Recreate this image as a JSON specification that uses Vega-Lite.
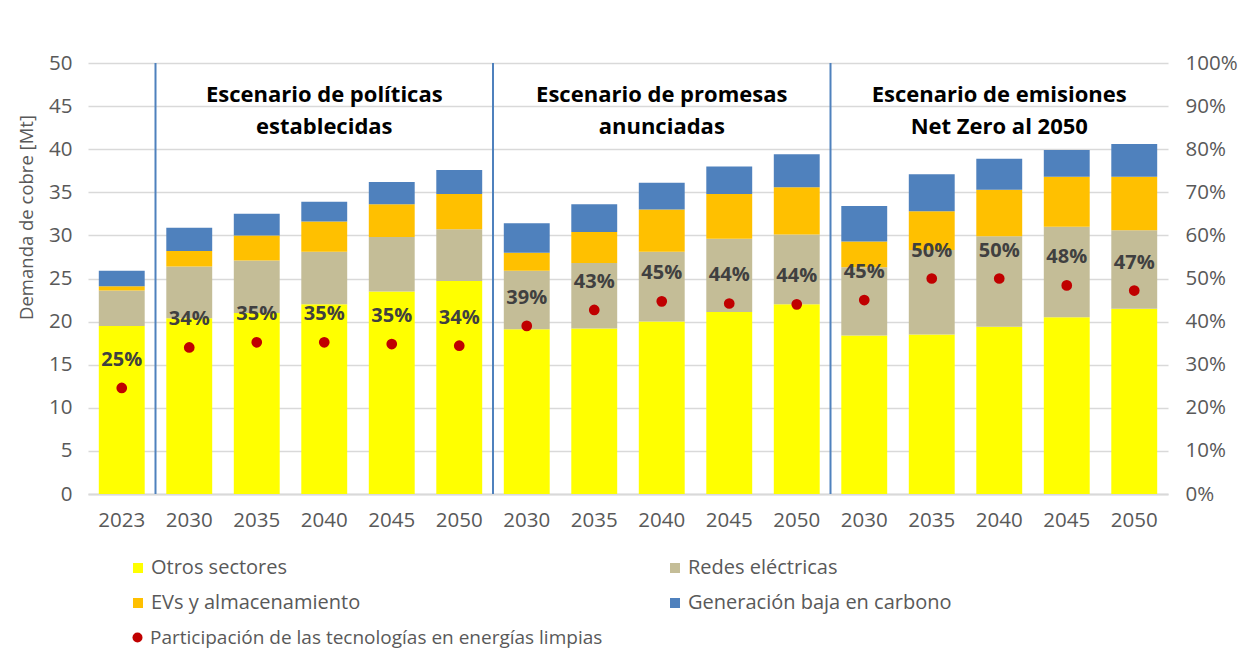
{
  "$schema": "https://vega.github.io/schema/vega-lite/v6.json",
  "width": 1080,
  "height": 431,
  "autosize": {"type": "none"},
  "padding": {"left": 88, "top": 63, "right": 76, "bottom": 154},
  "background": "white",
  "config": {
    "view": {"stroke": null},
    "font": "Open Sans",
    "axis": {"labelFont": "Open Sans", "titleFont": "Open Sans", "labelColor": "#595959", "titleColor": "#595959", "labelFontSize": 20.5, "titleFontSize": 18.5, "titleFontWeight": "normal"},
    "legend": {"labelFont": "Open Sans", "labelFontSize": 20, "labelColor": "#595959", "labelLimit": 0}
  },
  "datasets": {
    "demanda": [
      {"k": "2023", "Otros sectores": 19.5, "Redes eléctricas": 4.1, "EVs y almacenamiento": 0.5, "Generación baja en carbono": 1.8, "pct": 0.246},
      {"k": "2030 S", "Otros sectores": 20.4, "Redes eléctricas": 6.0, "EVs y almacenamiento": 1.8, "Generación baja en carbono": 2.7, "pct": 0.34},
      {"k": "2035 S", "Otros sectores": 21.0, "Redes eléctricas": 6.1, "EVs y almacenamiento": 2.9, "Generación baja en carbono": 2.5, "pct": 0.352},
      {"k": "2040 S", "Otros sectores": 22.0, "Redes eléctricas": 6.1, "EVs y almacenamiento": 3.5, "Generación baja en carbono": 2.3, "pct": 0.352},
      {"k": "2045 S", "Otros sectores": 23.5, "Redes eléctricas": 6.3, "EVs y almacenamiento": 3.8, "Generación baja en carbono": 2.6, "pct": 0.348},
      {"k": "2050 S", "Otros sectores": 24.7, "Redes eléctricas": 6.0, "EVs y almacenamiento": 4.1, "Generación baja en carbono": 2.8, "pct": 0.344},
      {"k": "2030 A", "Otros sectores": 19.1, "Redes eléctricas": 6.8, "EVs y almacenamiento": 2.1, "Generación baja en carbono": 3.4, "pct": 0.39},
      {"k": "2035 A", "Otros sectores": 19.2, "Redes eléctricas": 7.6, "EVs y almacenamiento": 3.6, "Generación baja en carbono": 3.2, "pct": 0.427},
      {"k": "2040 A", "Otros sectores": 20.0, "Redes eléctricas": 8.1, "EVs y almacenamiento": 4.9, "Generación baja en carbono": 3.1, "pct": 0.447},
      {"k": "2045 A", "Otros sectores": 21.1, "Redes eléctricas": 8.5, "EVs y almacenamiento": 5.2, "Generación baja en carbono": 3.2, "pct": 0.442},
      {"k": "2050 A", "Otros sectores": 22.0, "Redes eléctricas": 8.1, "EVs y almacenamiento": 5.5, "Generación baja en carbono": 3.8, "pct": 0.44},
      {"k": "2030 N", "Otros sectores": 18.4, "Redes eléctricas": 7.9, "EVs y almacenamiento": 3.0, "Generación baja en carbono": 4.1, "pct": 0.45},
      {"k": "2035 N", "Otros sectores": 18.5, "Redes eléctricas": 9.8, "EVs y almacenamiento": 4.5, "Generación baja en carbono": 4.3, "pct": 0.50},
      {"k": "2040 N", "Otros sectores": 19.4, "Redes eléctricas": 10.5, "EVs y almacenamiento": 5.4, "Generación baja en carbono": 3.6, "pct": 0.50},
      {"k": "2045 N", "Otros sectores": 20.5, "Redes eléctricas": 10.5, "EVs y almacenamiento": 5.8, "Generación baja en carbono": 3.1, "pct": 0.484},
      {"k": "2050 N", "Otros sectores": 21.5, "Redes eléctricas": 9.1, "EVs y almacenamiento": 6.2, "Generación baja en carbono": 3.8, "pct": 0.472}
    ],
    "escenarios": [
      {"inicio": "2030 S", "centro": "2040 S", "nombre": "Escenario de políticas\nestablecidas"},
      {"inicio": "2030 A", "centro": "2040 A", "nombre": "Escenario de promesas\nanunciadas"},
      {"inicio": "2030 N", "centro": "2040 N", "nombre": "Escenario de emisiones\nNet Zero al 2050"}
    ]
  },
  "layer": [
    {
      "data": {"name": "demanda"},
      "transform": [
        {"fold": ["Otros sectores", "Redes eléctricas", "EVs y almacenamiento", "Generación baja en carbono"], "as": ["serie", "valor"]},
        {"calculate": "indexof(['Otros sectores','Redes eléctricas','EVs y almacenamiento','Generación baja en carbono'], datum.serie)", "as": "orden"}
      ],
      "mark": {"type": "bar", "width": {"band": 0.68}},
      "encoding": {
        "x": {"field": "k", "type": "nominal", "scale": {"domain": ["2023","2030 S","2035 S","2040 S","2045 S","2050 S","2030 A","2035 A","2040 A","2045 A","2050 A","2030 N","2035 N","2040 N","2045 N","2050 N"], "paddingInner": 0, "paddingOuter": 0},
          "axis": {"title": null, "labelAngle": 0, "labelExpr": "slice(datum.label, 0, 4)", "ticks": false, "domainColor": "#d9d9d9", "domainWidth": 2, "labelPadding": 16}},
        "y": {"field": "valor", "type": "quantitative", "stack": "zero", "scale": {"domain": [0, 50]},
          "axis": {"title": "Demanda de cobre [Mt]", "values": [0,5,10,15,20,25,30,35,40,45,50], "ticks": false, "domain": false, "gridColor": "#d9d9d9", "gridWidth": 1.5, "labelPadding": 16, "titlePadding": 12, "titleY": 154, "titleAlign": "center"}},
        "color": {"field": "serie", "type": "nominal",
          "scale": {"domain": ["Otros sectores", "Redes eléctricas", "EVs y almacenamiento", "Generación baja en carbono"], "range": ["#FFFF00", "#C4BD97", "#FFC000", "#4F81BD"]},
          "legend": {"title": null, "orient": "none", "legendX": 40, "legendY": 495, "columns": 2, "direction": "horizontal", "columnPadding": 304, "rowPadding": 15, "symbolType": "square", "symbolSize": 100, "symbolStrokeWidth": 0, "labelOffset": 3}},
        "order": {"field": "orden", "type": "quantitative"}
      }
    },
    {
      "data": {"name": "escenarios"},
      "mark": {"type": "rule", "color": "#4F81BD", "strokeWidth": 2},
      "encoding": {
        "x": {"field": "inicio", "type": "nominal", "bandPosition": 0}
      }
    },
    {
      "data": {"name": "escenarios"},
      "transform": [{"calculate": "46.3", "as": "ytexto"}],
      "mark": {"type": "text", "fontWeight": "bold", "fontSize": 22, "color": "#000000", "lineBreak": "\n", "lineHeight": 32, "baseline": "middle", "align": "center", "font": "Open Sans"},
      "encoding": {
        "x": {"field": "centro", "type": "nominal"},
        "y": {"field": "ytexto", "type": "quantitative", "scale": {"domain": [0, 50]}, "axis": null},
        "text": {"field": "nombre"}
      }
    },
    {
      "data": {"name": "demanda"},
      "mark": {"type": "point", "filled": true, "opacity": 1, "size": 115, "shape": "circle"},
      "encoding": {
        "x": {"field": "k", "type": "nominal"},
        "y": {"field": "pct", "type": "quantitative", "scale": {"domain": [0, 1]},
          "axis": {"orient": "right", "title": null, "format": ".0%", "values": [0,0.1,0.2,0.3,0.4,0.5,0.6,0.7,0.8,0.9,1], "ticks": false, "domain": false, "grid": false, "labelPadding": 17}},
        "color": {"datum": "Participación de las tecnologías en energías limpias", "type": "nominal",
          "scale": {"range": ["#C00000"]},
          "legend": {"title": null, "orient": "none", "legendX": 40, "legendY": 565, "symbolType": "circle", "symbolSize": 100, "labelOffset": 3, "labelFontSize": 19}}
      }
    },
    {
      "data": {"name": "demanda"},
      "mark": {"type": "text", "fontWeight": "bold", "fontSize": 20, "color": "#404040", "dy": -28, "baseline": "middle", "font": "Open Sans"},
      "encoding": {
        "x": {"field": "k", "type": "nominal"},
        "y": {"field": "pct", "type": "quantitative", "scale": {"domain": [0, 1]}, "axis": null},
        "text": {"field": "pct", "type": "quantitative", "format": ".0%"}
      }
    }
  ],
  "resolve": {"scale": {"y": "independent", "color": "independent"}}
}
